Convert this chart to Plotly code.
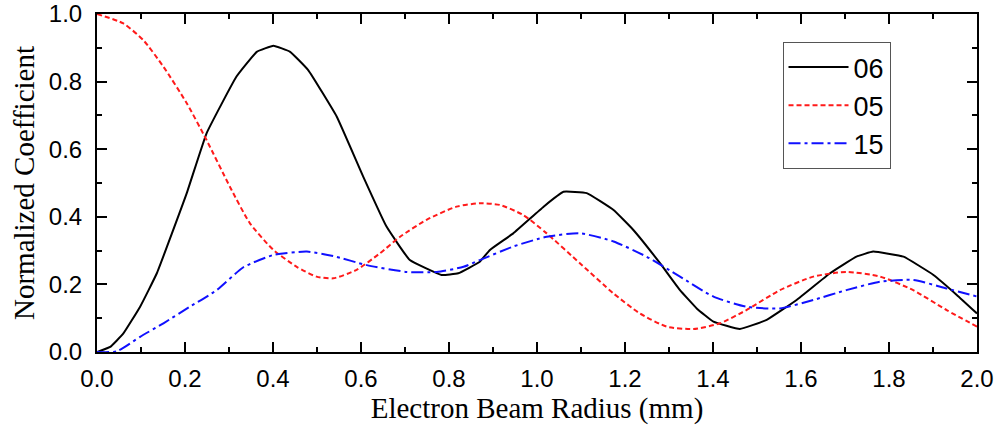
import plotly.graph_objects as go

# Series "06" (black solid)
x06 = [0.0, 0.03, 0.06, 0.098, 0.136, 0.204, 0.249, 0.317, 0.363, 0.401, 0.439, 0.48, 0.545,
       0.605, 0.658, 0.711, 0.783, 0.821, 0.870, 0.893, 0.946, 1.015, 1.06, 1.113, 1.174, 1.219,
       1.28, 1.325, 1.363, 1.401, 1.461, 1.522, 1.59, 1.666, 1.726, 1.764, 1.833, 1.901, 1.954, 2.0]
y06 = [0.0, 0.015, 0.055, 0.134, 0.233, 0.47, 0.647, 0.815, 0.888, 0.906, 0.888, 0.834, 0.696,
       0.519, 0.371, 0.272, 0.228, 0.233, 0.267, 0.302, 0.351, 0.43, 0.474, 0.47, 0.42, 0.361,
       0.262, 0.183, 0.129, 0.09, 0.068, 0.095, 0.154, 0.233, 0.282, 0.297, 0.282, 0.228, 0.169, 0.114]

# Series "05" (red dashed)
x05 = [0.0, 0.06, 0.105, 0.151, 0.204, 0.249, 0.302, 0.348, 0.401, 0.454, 0.499, 0.537, 0.59,
       0.643, 0.689, 0.749, 0.817, 0.87, 0.916, 0.969, 1.022, 1.098, 1.174, 1.234, 1.295, 1.356,
       1.416, 1.476, 1.552, 1.628, 1.703, 1.78, 1.855, 1.931, 2.0]
y05 = [1.0, 0.972, 0.923, 0.844, 0.736, 0.627, 0.489, 0.38, 0.302, 0.252, 0.223, 0.218, 0.243,
       0.292, 0.341, 0.391, 0.43, 0.44, 0.435, 0.405, 0.351, 0.262, 0.173, 0.114, 0.075, 0.068,
       0.085, 0.124, 0.183, 0.223, 0.237, 0.223, 0.183, 0.124, 0.075]

# Series "15" (blue dash-dot)
x15 = [0.0, 0.045, 0.098, 0.151, 0.211, 0.272, 0.332, 0.401, 0.477, 0.537, 0.613, 0.704, 0.772,
       0.833, 0.870, 0.946, 1.022, 1.098, 1.174, 1.249, 1.325, 1.401, 1.476, 1.552, 1.628, 1.703,
       1.78, 1.855, 1.931, 2.0]
y15 = [0.0, 0.002, 0.045, 0.085, 0.134, 0.183, 0.25, 0.287, 0.297, 0.284, 0.257, 0.237, 0.237,
       0.252, 0.272, 0.312, 0.341, 0.351, 0.327, 0.282, 0.223, 0.164, 0.134, 0.129, 0.154, 0.183,
       0.208, 0.213, 0.188, 0.164]

x_ticks = [0.0, 0.2, 0.4, 0.6, 0.8, 1.0, 1.2, 1.4, 1.6, 1.8, 2.0]
y_ticks = [0.0, 0.2, 0.4, 0.6, 0.8, 1.0]

fig = go.Figure()
fig.add_trace(go.Scatter(x=x06, y=y06, name="06", mode="lines", legendgroup="a",
                         line=dict(color="black", width=2, shape="spline", smoothing=0.3)))
fig.add_trace(go.Scatter(x=x05, y=y05, name="05", mode="lines", legendgroup="b",
                         line=dict(color="#ff1a1a", width=2, dash="5px,3px", shape="spline", smoothing=0.6)))
fig.add_trace(go.Scatter(x=x15, y=y15, name="15", mode="lines", legendgroup="c",
                         line=dict(color="#1010ff", width=2, dash="12px,4px,3px,4px", shape="spline", smoothing=0.6)))

tick_font = dict(family="Liberation Sans, Arial", size=24, color="black")
title_font = dict(family="Liberation Serif, Times New Roman", size=29, color="black")

axis_common = dict(
    showline=True, linecolor="black", linewidth=2, mirror="ticks",
    ticks="inside", ticklen=10, tickwidth=2, tickcolor="black",
    showgrid=False, zeroline=False, tickfont=tick_font, automargin=False,
)

fig.update_xaxes(range=[0, 2.0], tickvals=x_ticks, ticktext=[f"{v:.1f}" for v in x_ticks],
                 minor=dict(ticks="inside", ticklen=5, tickwidth=2, tickcolor="black", dtick=0.1, tick0=0),
                 title=dict(text="Electron Beam Radius (mm)", font=title_font, standoff=0),
                 ticklabelstandoff=4, **axis_common)
fig.update_yaxes(range=[0, 1.0], tickvals=y_ticks, ticktext=[f"{v:.1f}" for v in y_ticks],
                 minor=dict(ticks="inside", ticklen=5, tickwidth=2, tickcolor="black", dtick=0.1, tick0=0),
                 title=dict(text="Normalized Coefficient", font=title_font, standoff=6),
                 ticklabelstandoff=8, **axis_common)

fig.update_layout(
    width=998, height=427,
    margin=dict(l=97, r=21, t=14, b=75),
    plot_bgcolor="white", paper_bgcolor="white",
    legend=dict(x=0.779, y=0.917, xanchor="left", yanchor="top",
                bordercolor="#555555", borderwidth=1, bgcolor="white",
                font=dict(family="Liberation Sans, Arial", size=27, color="black"),
                tracegroupgap=0, itemwidth=60),
    showlegend=True,
)

fig.write_html("out.html")
